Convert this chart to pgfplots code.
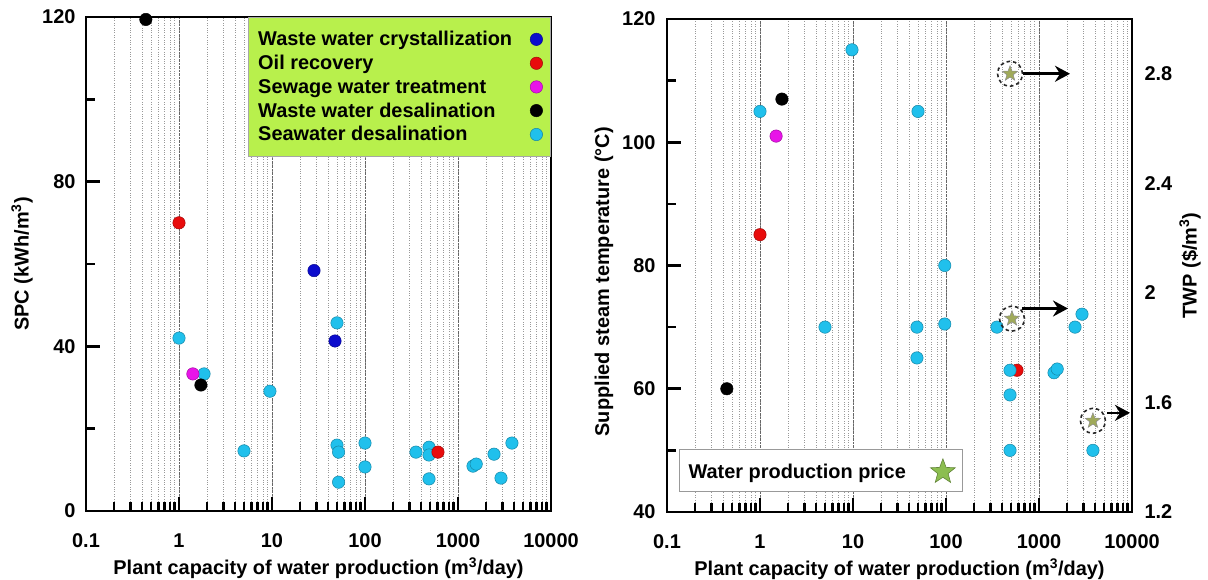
\documentclass[border=0pt]{standalone}
\usepackage{pgfplots}
\pgfplotsset{compat=1.18}
\usepackage{fontspec}
\setmainfont{Liberation Sans}
\usetikzlibrary{arrows.meta}

\definecolor{cblue}{RGB}{12,12,205}
\definecolor{cred}{RGB}{232,12,12}
\definecolor{cmag}{RGB}{232,20,232}
\definecolor{ccyan}{RGB}{32,192,236}
\definecolor{limeleg}{RGB}{184,240,76}
\definecolor{starg}{RGB}{140,190,80}
\definecolor{staro}{RGB}{160,170,90}

% filled five-pointed star
\pgfdeclareplotmark{fstar}{%
  \pgfpathmoveto{\pgfpointpolar{90}{\pgfplotmarksize}}%
  \pgfpathlineto{\pgfpointpolar{126}{0.42\pgfplotmarksize}}%
  \pgfpathlineto{\pgfpointpolar{162}{\pgfplotmarksize}}%
  \pgfpathlineto{\pgfpointpolar{198}{0.42\pgfplotmarksize}}%
  \pgfpathlineto{\pgfpointpolar{234}{\pgfplotmarksize}}%
  \pgfpathlineto{\pgfpointpolar{270}{0.42\pgfplotmarksize}}%
  \pgfpathlineto{\pgfpointpolar{306}{\pgfplotmarksize}}%
  \pgfpathlineto{\pgfpointpolar{342}{0.42\pgfplotmarksize}}%
  \pgfpathlineto{\pgfpointpolar{18}{\pgfplotmarksize}}%
  \pgfpathlineto{\pgfpointpolar{54}{0.42\pgfplotmarksize}}%
  \pgfpathclose
  \pgfusepathqfillstroke}

\pgfplotsset{
  every axis/.append style={
    tick label style={font=\fontsize{20}{22}\selectfont\bfseries},
    label style={font=\fontsize{20}{22}\selectfont\bfseries},
  },
}

\begin{document}
\begin{tikzpicture}[font=\bfseries]
\path[use as bounding box] (0,0) rectangle (1208bp,580bp);

% ---------- SPC panel ----------
\begin{axis}[
  at={(86bp,69bp)}, anchor=south west,
  scale only axis, width=465bp, height=494bp,
  xmode=log, xmin=0.1, xmax=10000,
  xtick={0.1,1,10,100,1000,10000},
  xticklabels={0.1,1,10,100,1000,10000},
  axis line style={line width=2.8bp},
  tick style={black, line width=2.6bp},
  major tick length=14bp, minor tick length=9bp,
  tick align=inside, xtick pos=bottom, ytick pos=left,
  xmajorgrids, xminorgrids,
  major grid style={densely dotted, black!60, line width=0.7bp},
  minor grid style={dotted, black!40, line width=0.7bp},
  xticklabel style={yshift=-19bp},
  yticklabel style={xshift=-7bp},
  xlabel={Plant capacity of water production (m\textsuperscript{3}/day)},
  xlabel style={at={(axis description cs:0.5,0)}, anchor=center, yshift=-57bp},
  clip=false,
  ymin=0, ymax=120, ytick={0,40,80,120}, minor ytick={20,60,100},
  yticklabels={0,40,80,120},
  ylabel={SPC (kWh/m\textsuperscript{3})},
  ylabel style={at={(axis description cs:0,0.5)}, anchor=center, yshift=64bp},
  legend cell align=left, legend plot pos=right,
  legend style={at={(1,1)}, anchor=north east, fill=limeleg, draw=black!35,
    line width=0.8bp, font=\fontsize{20}{22}\selectfont\bfseries,
    row sep=4bp, inner xsep=8bp, inner ysep=12bp},
]
\addplot[only marks, mark=*, mark size=6.2bp,
  mark options={fill=ccyan, draw=ccyan!70!black, line width=0.5bp}, forget plot]
  coordinates {
  (1,42) (1.86,33.3) (9.5,29.1) (5,14.6) (50,45.7) (50,16) (52,14.3) (52,7)
  (100,16.5) (100,10.7) (353,14.3) (488,15.5) (488,13.6) (488,7.8)
  (1450,10.9) (1570,11.4) (2440,13.8) (2900,8) (3800,16.5)};
\addplot[only marks, mark=*, mark size=6.2bp,
  mark options={fill=cblue, draw=cblue!70!black, line width=0.5bp}]
  coordinates {(28.3,58.4) (47.6,41.3)};
\addlegendentry{\makebox[270bp][l]{Waste water crystallization}}
\addplot[only marks, mark=*, mark size=6.2bp,
  mark options={fill=cred, draw=cred!70!black, line width=0.5bp}]
  coordinates {(1,70) (609,14.3)};
\addlegendentry{\makebox[270bp][l]{Oil recovery}}
\addplot[only marks, mark=*, mark size=6.2bp,
  mark options={fill=cmag, draw=cmag!70!black, line width=0.5bp}]
  coordinates {(1.41,33.3)};
\addlegendentry{\makebox[270bp][l]{Sewage water treatment}}
\addplot[only marks, mark=*, mark size=6.2bp,
  mark options={fill=black, draw=black, line width=0.5bp}]
  coordinates {(0.44,119.4) (1.72,30.6)};
\addlegendentry{\makebox[270bp][l]{Waste water desalination}}
\addlegendimage{only marks, mark=*, mark size=6.2bp,
  mark options={fill=ccyan, draw=ccyan!70!black, line width=0.5bp}}
\addlegendentry{\makebox[270bp][l]{Seawater desalination}}
\end{axis}

% ---------- steam temperature panel ----------
\begin{axis}[
  at={(667bp,68bp)}, anchor=south west,
  scale only axis, width=465bp, height=493bp,
  xmode=log, xmin=0.1, xmax=10000,
  xtick={0.1,1,10,100,1000,10000},
  xticklabels={0.1,1,10,100,1000,10000},
  axis line style={line width=2.8bp},
  tick style={black, line width=2.6bp},
  major tick length=14bp, minor tick length=9bp,
  tick align=inside, xtick pos=bottom, ytick pos=left,
  xmajorgrids, xminorgrids,
  major grid style={densely dotted, black!60, line width=0.7bp},
  minor grid style={dotted, black!40, line width=0.7bp},
  xticklabel style={yshift=-19bp},
  yticklabel style={xshift=-8bp},
  xlabel={Plant capacity of water production (m\textsuperscript{3}/day)},
  xlabel style={at={(axis description cs:0.5,0)}, anchor=center, yshift=-57bp},
  clip=false,
  ymin=40, ymax=120, ytick={40,60,80,100,120}, minor ytick={50,70,90,110},
  yticklabels={40,60,80,100,120},
  ylabel={Supplied steam temperature (\textdegree C)},
  ylabel style={at={(axis description cs:0,0.467)}, anchor=center, yshift=63bp},
]
\addplot[only marks, mark=*, mark size=6.2bp,
  mark options={fill=cred, draw=cred!70!black, line width=0.5bp}]
  coordinates {(1,85) (580,63)};
\addplot[only marks, mark=*, mark size=6.2bp,
  mark options={fill=ccyan, draw=ccyan!70!black, line width=0.5bp}]
  coordinates {
  (9.75,115) (1,105) (50,105) (97,80) (5,70) (48.7,70) (97,70.5) (48.7,65)
  (353,70) (488,63) (488,59) (488,50) (1450,62.6) (1570,63.2)
  (2440,70) (2900,72.1) (3800,50)};
\addplot[only marks, mark=*, mark size=6.2bp,
  mark options={fill=black, draw=black, line width=0.5bp}]
  coordinates {(1.72,107) (0.44,60)};
\addplot[only marks, mark=*, mark size=6.2bp,
  mark options={fill=cmag, draw=cmag!70!black, line width=0.5bp}]
  coordinates {(1.49,101)};
\end{axis}

% ---------- water production price (right axis) ----------
\begin{axis}[
  at={(667bp,68bp)}, anchor=south west,
  scale only axis, width=465bp, height=493bp,
  xmode=log, xmin=0.1, xmax=10000,
  axis x line=none, axis y line*=right,
  axis line style={line width=2.8bp},
  ymin=1.2, ymax=3.0, ytick={1.2,1.6,2,2.4,2.8},
  yticklabels={1.2,1.6,2,2.4,2.8},
  major tick length=0pt,
  yticklabel style={xshift=9bp},
  ylabel={TWP (\$/m\textsuperscript{3})},
  ylabel style={at={(axis description cs:1,0.5)}, anchor=center, yshift=-58bp},
  clip=false,
  legend plot pos=right, legend cell align=left,
  legend style={at={(0.026,0.041)}, anchor=south west, draw=black!40,
    line width=0.9bp, font=\fontsize{20}{22}\selectfont\bfseries,
    inner xsep=7bp, inner ysep=9bp},
]
\addplot[only marks, mark=fstar, mark size=8bp,
  mark options={fill=staro, draw=black!45, line width=0.5bp}, forget plot]
  coordinates {(488,2.8) (512,1.906) (3800,1.533)};
\addplot[only marks, mark=o, mark size=12.5bp,
  mark options={draw=black!85, line width=1.6bp, dash pattern=on 3.5bp off 3bp},
  forget plot]
  coordinates {(488,2.8) (512,1.906) (3800,1.533)};
\addlegendimage{only marks, mark=fstar, mark size=13bp,
  mark options={fill=starg, draw=starg!70!black, line width=0.6bp}}
\addlegendentry{\makebox[240bp][l]{Water production price}}
\draw[-{Stealth[length=15bp,width=16bp,inset=5bp]}, line width=2.6bp]
  (axis cs:673,2.8) -- (axis cs:2154,2.8);
\draw[-{Stealth[length=15bp,width=16bp,inset=5bp]}, line width=2.6bp]
  (axis cs:656,1.943) -- (axis cs:2050,1.943);
\draw[-{Stealth[length=15bp,width=16bp,inset=5bp]}, line width=2.6bp]
  (axis cs:5385,1.562) -- (axis cs:9510,1.562);
\end{axis}
\end{tikzpicture}
\end{document}
